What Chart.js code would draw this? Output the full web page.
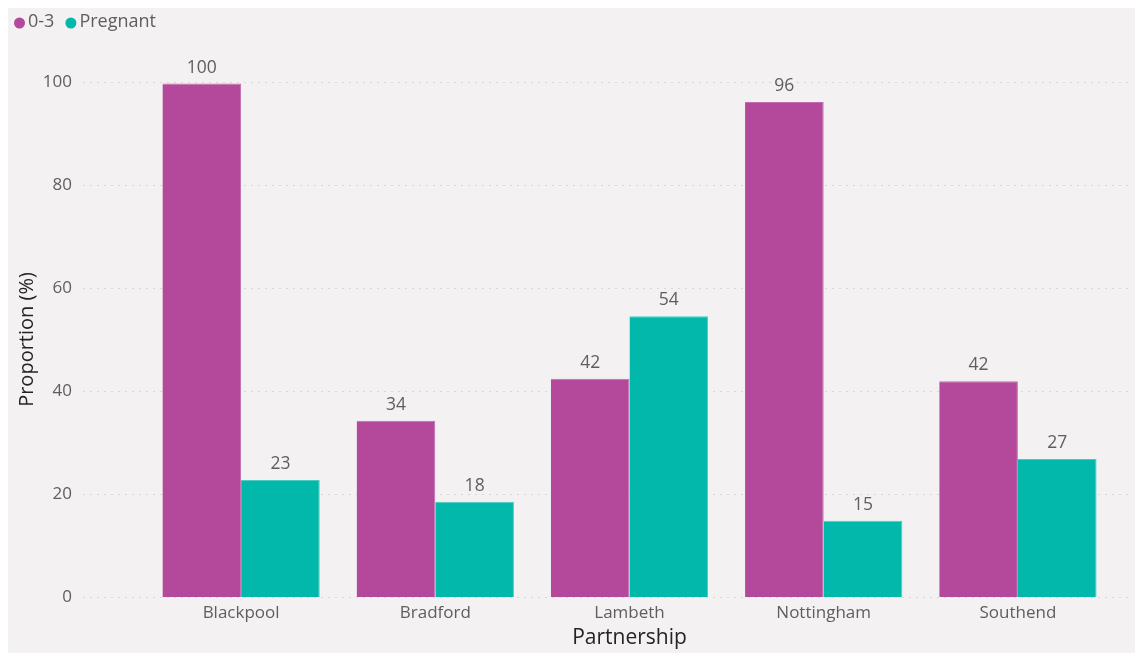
<!DOCTYPE html>
<html><head><meta charset="utf-8">
<script src="https://cdn.jsdelivr.net/npm/chart.js@4.4.1/dist/chart.umd.min.js"></script>
<style>html,body{margin:0;padding:0;background:#fff;}#wrap{width:1135px;height:654px;}</style>
</head><body><div id="wrap"><canvas id="c" width="1135" height="654"></canvas></div>
<script>
const categories = ["Blackpool","Bradford","Lambeth","Nottingham","Southend"];
const series03 = [99.7, 34.2, 42.4, 96.1, 41.9];
const seriesPregnant = [22.7, 18.5, 54.5, 14.8, 26.8];
const labels03 = ["100","34","42","96","42"];
const labelsPregnant = ["23","18","54","15","27"];
const yTicks = [0,20,40,60,80,100];

const FONT = "'Open Sans', 'DejaVu Sans', sans-serif";
const MAG = '#b4489a', TEAL = '#01b8aa';

const bgPlugin = {
  id:'bg',
  beforeDraw(chart){
    const c = chart.ctx;
    c.save(); c.fillStyle='#fff'; c.fillRect(0,0,chart.width,chart.height);
    c.fillStyle='#f3f1f2'; c.fillRect(8,8,chart.width-8,chart.height-9);
    const y = chart.scales.y;
    c.strokeStyle='#d9d7d8'; c.lineWidth=1; c.setLineDash([2,5]);
    yTicks.forEach(v=>{ const py=Math.round(y.getPixelForValue(v))+0.5; c.beginPath(); c.moveTo(83,py); c.lineTo(1132,py); c.stroke(); });
    c.restore();
  }
};
const legendPlugin = {
  id:'lg',
  afterDraw(chart){
    const c = chart.ctx; c.save();
    c.font = "18px "+FONT; c.textBaseline='middle'; c.textAlign='left';
    let x = 14; const y = 22;
    chart.data.datasets.forEach(ds=>{
      c.fillStyle = ds.backgroundColor; c.beginPath(); c.arc(x+5.5, y+1, 5.5, 0, Math.PI*2); c.fill();
      x += 14;
      c.fillStyle = '#605e5c'; c.fillText(ds.label, x, y);
      x += c.measureText(ds.label).width + 11;
    });
    c.restore();
  }
};
const labelPlugin = {
  id:'dl',
  afterDatasetsDraw(chart){
    const c = chart.ctx; c.save();
    c.font = "17.5px "+FONT; c.fillStyle='#605e5c'; c.textAlign='center'; c.textBaseline='middle';
    [labels03, labelsPregnant].forEach((lbls,di)=>{
      chart.getDatasetMeta(di).data.forEach((el,i)=>{ c.fillText(lbls[i], el.x, el.y-16); });
    });
    c.restore();
  }
};

new Chart(document.getElementById('c'), {
  type:'bar',
  data:{ labels:categories, datasets:[
    {label:'0-3', data:series03, backgroundColor:MAG, borderColor:'#c36db0', borderWidth:{top:1,left:0,right:1,bottom:0}, barPercentage:1, categoryPercentage:0.81},
    {label:'Pregnant', data:seriesPregnant, backgroundColor:TEAL, borderColor:'#4ccbc1', borderWidth:{top:1,left:0,right:1,bottom:0}, barPercentage:1, categoryPercentage:0.81}
  ]},
  options:{
    responsive:false, animation:false, devicePixelRatio:1,
    layout:{padding:{left:8,right:20,top:82,bottom:3}},
    plugins:{ legend:{display:false}, tooltip:{enabled:false} },
    scales:{
      x:{ grid:{display:false, drawTicks:false}, border:{display:false},
        afterFit(s){ s.height = 54; },
        ticks:{color:'#605e5c', font:{family:FONT,size:17}, padding:6},
        title:{display:true, text:'Partnership', color:'#252423', font:{family:FONT,size:21}, padding:{top:0,bottom:0}} },
      y:{ min:0, max:100, afterFit(s){ s.width = 136; s.paddingTop = 10; s.paddingBottom = 10; },
        afterBuildTicks(s){ s.ticks = yTicks.map(v=>({value:v})); },
        grid:{display:false, drawTicks:false}, border:{display:false},
        ticks:{color:'#605e5c', font:{family:FONT,size:17}, padding:72},
        title:{display:true, text:'Proportion (%)', color:'#252423', font:{family:FONT,size:20}, padding:{top:7,bottom:0}} }
    }
  },
  plugins:[bgPlugin,labelPlugin,legendPlugin]
});
</script></body></html>
